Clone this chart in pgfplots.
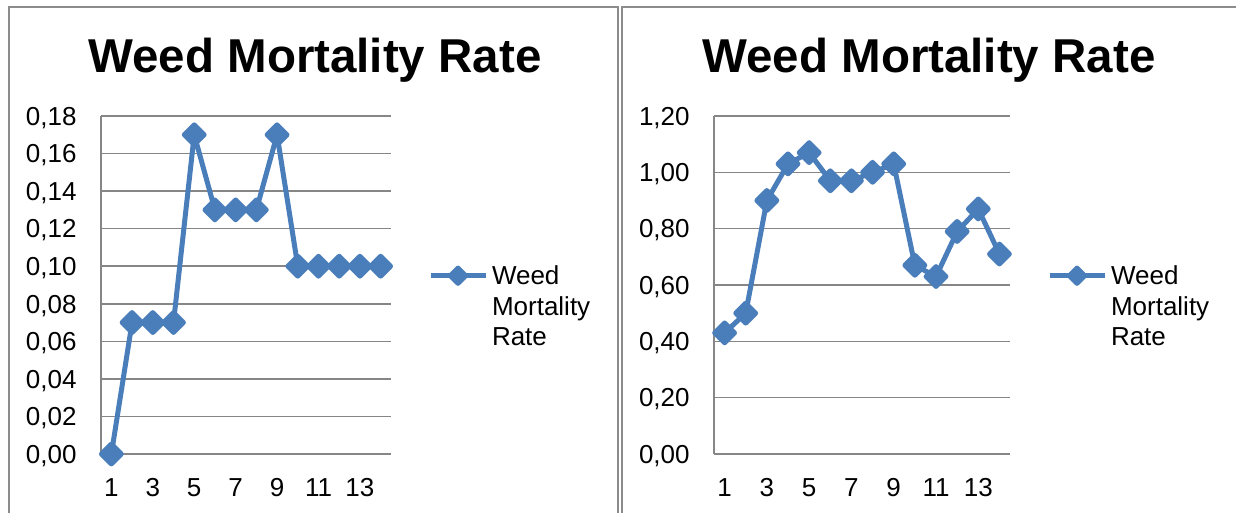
\documentclass[border=0pt]{standalone}
\usepackage{pgfplots}
\pgfplotsset{compat=1.18}
\usepackage{fontspec}
\setmainfont{Liberation Sans}
\definecolor{ser}{HTML}{4A7EBB}
\definecolor{grd}{HTML}{868686}
\definecolor{frm}{HTML}{8C8C8C}
\pgfplotsset{
  wm/.style={
    scale only axis, height=169pt,
    axis lines*=left,
    axis line style={grd, line width=0.75pt},
    ymajorgrids, grid style={grd, line width=0.75pt},
    major tick length=0pt,
    xmin=0.5, xmax=14.5,
    xtick={1,3,5,7,9,11,13},
    scaled y ticks=false,
    /pgf/number format/assume math mode=true,
    tick label style={font=\fontsize{13}{15.6}\selectfont},
    xticklabel style={anchor=north, inner sep=0pt, yshift=-12pt},
    yticklabel style={anchor=base east, inner sep=0pt, xshift=-12pt, yshift=-4.65pt,
      /pgf/number format/fixed, /pgf/number format/fixed zerofill,
      /pgf/number format/precision=2, /pgf/number format/use comma},
    legend image code/.code={\draw[mark repeat=2, mark phase=2, ##1, mark size=2.7pt]
      plot coordinates {(0pt,4.65pt) (13.75pt,4.65pt) (27.5pt,4.65pt)};},
    legend style={draw=none, fill=none, inner sep=0pt, outer sep=0pt,
      at={(axis description cs:1,0.575)}, anchor=north west, xshift=18.5pt,
      font=\fontsize{13}{15.25}\selectfont,
      cells={anchor=base west, inner xsep=1pt, inner ysep=0pt}},
  },
  wmplot/.style={ser, line width=2.5pt, line join=round,
    mark=square*, mark size=3.5pt, mark options={rotate=45, solid, fill=ser, draw=none}},
}
\begin{document}
\begin{tikzpicture}
\useasboundingbox (0,0) rectangle (618pt,256.5pt);
\draw[frm, line width=1pt] (4.5pt,-3pt) -- (4.5pt,253pt) -- (308.75pt,253pt) -- (308.75pt,-3pt);
\draw[frm, line width=1pt] (310.75pt,-3pt) -- (310.75pt,253pt) -- (622pt,253pt);
\node[anchor=base, font=\fontsize{23.75}{28}\selectfont\bfseries] at (157.5pt,220pt) {Weed Mortality Rate};
\node[anchor=base, font=\fontsize{23.75}{28}\selectfont\bfseries] at (464.5pt,220pt) {Weed Mortality Rate};
\begin{axis}[wm, width=145pt, at={(50.5pt,29.5pt)}, anchor=south west,
  ymin=0, ymax=0.18, ytick={0,0.02,0.04,0.06,0.08,0.10,0.12,0.14,0.16,0.18}]
\addplot[wmplot] coordinates {(1,0) (2,0.07) (3,0.07) (4,0.07) (5,0.17) (6,0.13) (7,0.13)
  (8,0.13) (9,0.17) (10,0.10) (11,0.10) (12,0.10) (13,0.10) (14,0.10)};
\addlegendentry{\begin{tabular}[t]{@{}l@{}}Weed\\Mortality\\Rate\end{tabular}}
\end{axis}
\begin{axis}[wm, width=148pt, at={(357pt,29.5pt)}, anchor=south west,
  ymin=0, ymax=1.2, ytick={0,0.2,0.4,0.6,0.8,1.0,1.2}]
\addplot[wmplot] coordinates {(1,0.43) (2,0.50) (3,0.90) (4,1.03) (5,1.07) (6,0.97) (7,0.97)
  (8,1.00) (9,1.03) (10,0.67) (11,0.63) (12,0.79) (13,0.87) (14,0.71)};
\addlegendentry{\begin{tabular}[t]{@{}l@{}}Weed\\Mortality\\Rate\end{tabular}}
\end{axis}
\end{tikzpicture}
\end{document}
